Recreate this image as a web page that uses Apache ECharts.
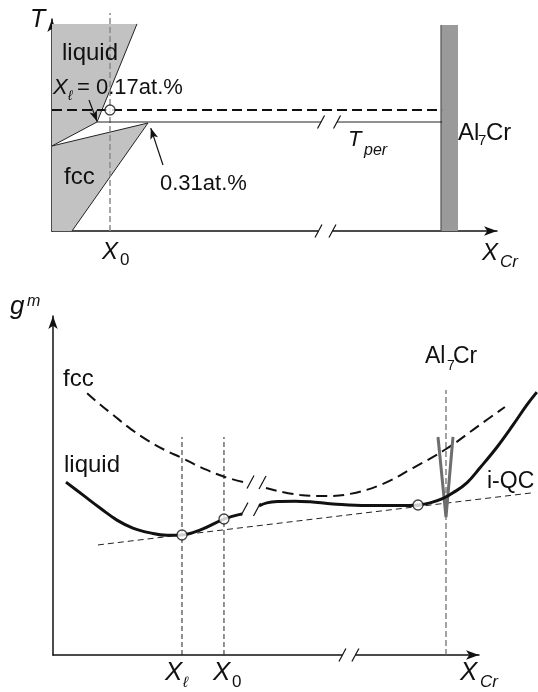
<!DOCTYPE html>
<html><head><meta charset="utf-8">
<script src="https://cdn.jsdelivr.net/npm/echarts@6/dist/echarts.min.js"></script>
<style>html,body{margin:0;padding:0;background:#fff}#c{width:538px;height:692px}</style>
</head><body><div id="c"></div>
<script>
// ---------- Top panel: schematic phase diagram (x: composition units, y: temperature units)
const liquidRegion = [[0,95],[18.85,95],[9.98,50.0],[0,39.0]];
const fccRegion = [[0,39.0],[21.29,49.54],[4.43,0],[0,0]];
const liquidusLine = [[18.85,95],[9.98,50.0],[0,39.0]];
const solidusLine = [[0,39.0],[21.29,49.54],[4.43,0]];
const al7crBar = [[86.25,0],[86.25,94.5],[90.02,94.5],[90.02,0]];
const x0Top = 12.86;
const tLiq = 55.5;
const tPer = 50.0;
const tPerLeft = [[9.98,tPer],[59.65,tPer]];
const tPerRight = [[63.2,tPer],[86.5,tPer]];
const tPerBreaks = [[59.65,tPer],[63.2,tPer]];
const topAxisBreaks = [[59.09,0],[62.19,0]];
const topCircle = [[x0Top,tLiq]];
const arrowXl = [[8.20,60.09],[9.98,50.3]];
const arrow031 = [[24.61,30.28],[21.9,47.2]];

// ---------- Bottom panel: molar Gibbs energy curves
const liquidA = [[3.0,50.1],[6.9,46.4],[10.9,42.6],[14.8,39.1],[18.5,36.8],[22.5,35.4],[26.4,34.7],[29.9,34.8],[34.0,36.2],[39.6,39.4],[43.8,40.9]];
const liquidB = [[47.7,43.2],[49.5,44.1],[52.5,44.5],[56.0,44.6],[59.5,44.4],[64.8,43.8],[72.7,43.3],[80.3,43.3],[84.5,43.5],[87.3,44.1],[90.3,45.4],[92.6,47.0],[95.8,49.9],[98.8,54.2],[102.8,60.3],[106.5,66.7],[109.7,72.5],[112.0,76.2]];
const fccA = [[7.9,75.9],[10.9,72.6],[13.9,69.6],[17.8,65.7],[21.8,62.3],[25.9,59.4],[29.9,57.1],[34.0,54.5],[39.8,51.6],[44.9,49.9]];
const fccB = [[49.3,48.4],[57.2,46.4],[63.4,46.1],[68.8,46.7],[76.4,49.6],[83.3,54.2],[91.0,59.7],[98.8,66.7],[104.6,71.9]];
const commonTangent = [[10.4,31.9],[110.9,47.0]];
const markedPoints = [[29.86,34.78],[39.58,39.42],[84.49,43.48]];
const xL = 29.86, x0 = 39.58, xAl7Cr = 90.97;
const compLineTop = 63.19, al7crLineTop = 76.81;
const al7crV = [[89.12,63.19],[90.97,40.0],[92.59,63.19]];
const liquidBreaks = [[44.33,42.32],[47.22,42.17]];
const fccBreaks = [[45.72,50.14],[48.5,50.0]];
const bottomAxisBreaks = [[67.0,0],[70.0,0]];

const FONT = '"Liberation Sans", Arial, Helvetica, sans-serif';
const INK = '#111';
const B = 2; // bottom data drawn on an overlay grid with the same scale as the visible bottom axes

function polySeries(points, fill, g, z) {
  return {type:'custom', xAxisIndex:g, yAxisIndex:g, z, clip:false, silent:true, data:[[0,0]],
    renderItem:(p, api) => ({type:'polygon', shape:{points: points.map(q => api.coord(q))}, style:{fill}})};
}
function lineSeries(data, g, style, z, smooth) {
  return {type:'line', xAxisIndex:g, yAxisIndex:g, data, showSymbol:false, symbol:'none', clip:false,
    smooth: smooth || false, silent:true, z: z || 3, lineStyle: style};
}
function breakSeries(points, g) {
  return {type:'custom', xAxisIndex:g, yAxisIndex:g, clip:false, silent:true, z:6, data:points,
    renderItem:(p, api) => { const c = api.coord([api.value(0), api.value(1)]);
      return {type:'line', shape:{x1:c[0]-3.5, y1:c[1]+6.5, x2:c[0]+3.5, y2:c[1]-6.5}, style:{stroke:INK, lineWidth:1.2}}; }};
}
function axisGap(pair, g) {
  return {type:'custom', xAxisIndex:g, yAxisIndex:g, clip:false, silent:true, z:5, data:[[pair[0][0], pair[1][0]]],
    renderItem:(p, api) => { const a = api.coord([api.value(0),0]), b = api.coord([api.value(1),0]);
      return {type:'rect', shape:{x:a[0], y:a[1]-3, width:b[0]-a[0], height:6}, style:{fill:'#fff'}}; }};
}
function circles(data, g) {
  return {type:'scatter', xAxisIndex:g, yAxisIndex:g, data, symbol:'circle', symbolSize:10, silent:true, z:10,
    itemStyle:{color:'#fff', borderColor:INK, borderWidth:1.3}};
}
function txt(x, y, s, size, italic) {
  return {type:'text', x, y, silent:true, z:100, style:{text:s, fontSize:size, fontFamily:FONT,
    fontStyle: italic ? 'italic' : 'normal', fill:INK, align:'left', verticalAlign:'middle'}};
}
const axisCommon = {type:'value', axisTick:{show:false}, axisLabel:{show:false}, splitLine:{show:false},
  axisLine:{show:true, onZero:false, symbol:['none','arrow'], symbolSize:[7,13], lineStyle:{color:INK, width:1.5}}};
const hiddenAxis = {type:'value', show:false, axisLine:{show:false}, splitLine:{show:false}};

const chart = echarts.init(document.getElementById('c'), null, {renderer:'canvas'});
chart.setOption({
  animation:false,
  grid:[{left:52, top:19, width:445, height:212}, {left:53, top:316, width:426, height:339},
        {left:53, top:316, width:485, height:339}],
  xAxis:[Object.assign({gridIndex:0, min:0, max:98.67}, axisCommon), Object.assign({gridIndex:1, min:0, max:98.61}, axisCommon),
         Object.assign({gridIndex:2, min:0, max:112.27}, hiddenAxis)],
  yAxis:[Object.assign({gridIndex:0, min:0, max:97.25}, axisCommon), Object.assign({gridIndex:1, min:0, max:98.26}, axisCommon),
         Object.assign({gridIndex:2, min:0, max:98.26}, hiddenAxis)],
  series:[
    // top panel
    polySeries(liquidRegion, '#c2c2c2', 0, 1),
    polySeries(fccRegion, '#c2c2c2', 0, 1),
    polySeries(al7crBar, '#9a9a9a', 0, 1),
    lineSeries([[al7crBar[0][0],0],[al7crBar[1][0],al7crBar[1][1]]], 0, {color:'#555', width:1.2}, 2),
    lineSeries(liquidusLine, 0, {color:'#222', width:1}, 3),
    lineSeries(solidusLine, 0, {color:'#222', width:1}, 3),
    lineSeries([[x0Top,0],[x0Top,100]], 0, {color:'#8a8a8a', width:1.5, type:[6,3]}, 3),
    lineSeries([[0,tLiq],[86.5,tLiq]], 0, {color:INK, width:2, type:[10,5]}, 4),
    Object.assign(lineSeries(tPerLeft, 0, {color:'#222', width:1}, 4), {
      markLine:{silent:true, symbol:['none','arrow'], symbolSize:[6,11], label:{show:false},
        lineStyle:{color:INK, width:1.2, type:'solid'},
        data:[[{coord:arrowXl[0]},{coord:arrowXl[1]}],[{coord:arrow031[0]},{coord:arrow031[1]}]]}}),
    lineSeries(tPerRight, 0, {color:'#222', width:1}, 4),
    breakSeries(tPerBreaks, 0),
    axisGap(topAxisBreaks, 0),
    breakSeries(topAxisBreaks, 0),
    circles(topCircle, 0),
    // bottom panel
    lineSeries([[xL,0],[xL,compLineTop]], B, {color:'#222', width:1, type:[5,3]}, 2),
    lineSeries([[x0,0],[x0,compLineTop]], B, {color:'#222', width:1, type:[5,3]}, 2),
    lineSeries([[xAl7Cr,0],[xAl7Cr,al7crLineTop]], B, {color:'#666', width:1.2, type:[6,3]}, 2),
    lineSeries(commonTangent, B, {color:'#222', width:1, type:[6,4]}, 3),
    lineSeries(fccA, B, {color:INK, width:2, type:[11,6]}, 4, 0.4),
    lineSeries(fccB, B, {color:INK, width:2, type:[11,6]}, 4, 0.4),
    lineSeries(al7crV, B, {color:'#6e6e6e', width:3}, 5),
    lineSeries(liquidA, B, {color:INK, width:3}, 6, 0.4),
    lineSeries(liquidB, B, {color:INK, width:3}, 6, 0.4),
    breakSeries(liquidBreaks, B),
    breakSeries(fccBreaks, B),
    axisGap(bottomAxisBreaks, B),
    breakSeries(bottomAxisBreaks, B),
    circles(markedPoints, B)
  ],
  graphic:[
    txt(30,20,'T',25,true),
    txt(62,53,'liquid',24),
    txt(53,88,'X',22,true), txt(68,96,'ℓ',14,true), txt(77,88,'= 0.17at.%',22),
    txt(64,177,'fcc',24),
    txt(160,184,'0.31at.%',22),
    txt(102,252,'X',24,true), txt(120,260,'0',17),
    txt(482,253,'X',24,true), txt(500,262,'Cr',17,true),
    txt(458,133,'Al',24), txt(478,141,'7',15), txt(486,133,'Cr',24),
    txt(348,140,'T',22,true), txt(364,151,'per',16,true),
    txt(10,307,'g',26,true), txt(27,302,'m',16,true),
    txt(63,379,'fcc',24),
    txt(64,465,'liquid',24),
    txt(425,357,'Al',23), txt(447,366,'7',14), txt(453,357,'Cr',23),
    txt(487,482,'i-QC',23),
    txt(165,673,'X',26,true), txt(183,683,'ℓ',15,true),
    txt(213,673,'X',26,true), txt(232,682,'0',17),
    txt(460,673,'X',26,true), txt(480,682,'Cr',17,true)
  ]
});
</script></body></html>
